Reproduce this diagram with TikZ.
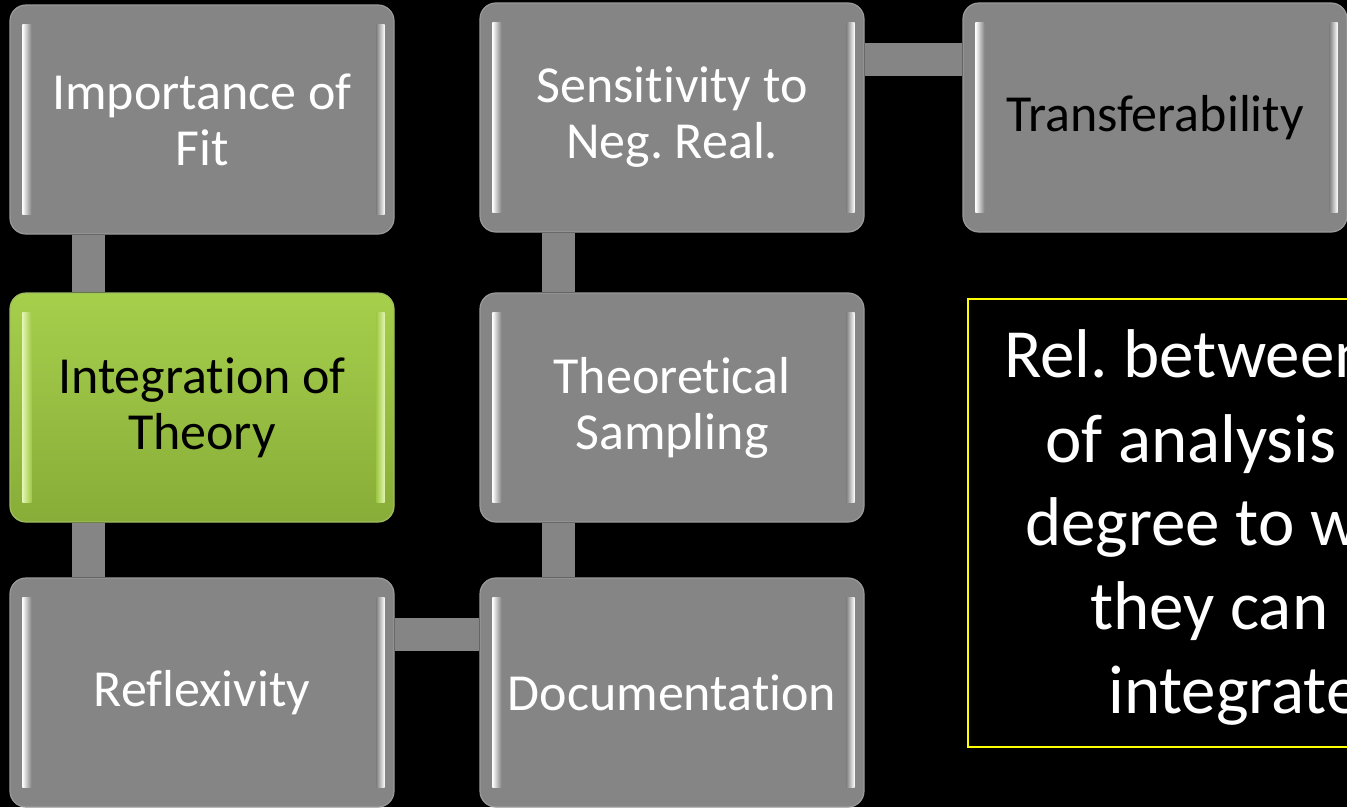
\documentclass[tikz,border=0pt]{standalone}
\usepackage{fontspec}
\setmainfont{Carlito}[Ligatures={NoCommon}]
\usetikzlibrary{backgrounds}
\definecolor{tilegray}{HTML}{858585}
\definecolor{tileedge}{HTML}{9A9A9A}
\definecolor{greentop}{HTML}{A6CF4C}
\definecolor{greenbot}{HTML}{88AD38}
\definecolor{greenhl}{HTML}{E2F5B0}
\definecolor{noteyellow}{HTML}{FFFF00}
\frenchspacing
\begin{document}
\begin{tikzpicture}[x=1pt,y=-1pt,
  tile/.style={rounded corners=16pt, minimum width=384pt, minimum height=229pt,
    inner sep=0pt, align=center, font=\fontsize{52}{56}\selectfont,
    text=white, fill=tilegray, draw=tileedge, line width=1.2pt},
  greentile/.style={tile, fill=none, top color=greentop, bottom color=greenbot,
    draw=greenbot!80!white, text=black},
  bar/.style={line width=33pt, draw=tilegray},
  notetext/.style={anchor=base west, inner sep=0pt, text=white,
    font=\fontsize{69}{84}\selectfont}
]
\useasboundingbox (0,0) rectangle (1347,807);

% tiles of the grid
\node[tile] (fit)   at (202,119.5) {Importance of\\Fit};
\node[greentile] (integ) at (202,407.5) {Integration of\\Theory};
\node[tile] (refl)  at (202,692.5) {Reflexivity};
\node[tile] (sens)  at (672,117.5) {Sensitivity to\\Neg. Real.};
\node[tile] (samp)  at (672,407.5) {Theoretical\\Sampling};
\node[tile] (doc)   at (672,692.5) {Documentation};
\node[tile, text=black] (trans) at (1155,117.5) {Transferability};

% bevel highlights on the left and right edges of each tile
\foreach \n in {fit,refl,sens,samp,doc,trans} {
  \shade[left color=white, right color=tilegray]
    ([xshift=13pt,yshift=-20pt]\n.north west) rectangle ([xshift=22pt,yshift=20pt]\n.south west);
  \shade[left color=tilegray, right color=white]
    ([xshift=-18pt,yshift=-20pt]\n.north east) rectangle ([xshift=-10pt,yshift=20pt]\n.south east);
}
\shade[left color=greenhl, right color=greentop!85!greenbot]
  ([xshift=13pt,yshift=-20pt]integ.north west) rectangle ([xshift=22pt,yshift=20pt]integ.south west);
\shade[left color=greentop!85!greenbot, right color=greenhl]
  ([xshift=-18pt,yshift=-20pt]integ.north east) rectangle ([xshift=-10pt,yshift=20pt]integ.south east);

% black page and the connecting bars behind the tiles
\begin{scope}[on background layer]
  \fill[black] (0,0) rectangle (1347,807);
  \draw[bar] ([xshift=-113.5pt]fit.south)   -- ([xshift=-113.5pt]integ.north);
  \draw[bar] ([xshift=-113.5pt]integ.south) -- ([xshift=-113.5pt]refl.north);
  \draw[bar] ([xshift=-114pt]sens.south)    -- ([xshift=-114pt]samp.north);
  \draw[bar] ([xshift=-114pt]samp.south)    -- ([xshift=-114pt]doc.north);
  \draw[bar] ([yshift=58.5pt]refl.east)     -- ([yshift=58.5pt]doc.west);
  \draw[bar] ([yshift=58.5pt]sens.east)     -- ([yshift=58.5pt]trans.west);
\end{scope}

% note box on the right, running past the page edge
\begin{scope}
  \clip (0,0) rectangle (1347,807);
  \draw[noteyellow, line width=2pt] (968,299) rectangle (1380,747);
  \node[notetext] (n1) at (1004,377) {Rel. between};
  \node[notetext] (n2) at (1045,462) {of analysis};
  \node[notetext] (n3) at (1025,545) {degree to which};
  \node[notetext] (n4) at (1090,629) {they can};
  \node[notetext] (n5) at (1108,713) {integrated};
\end{scope}
\end{tikzpicture}
\end{document}
